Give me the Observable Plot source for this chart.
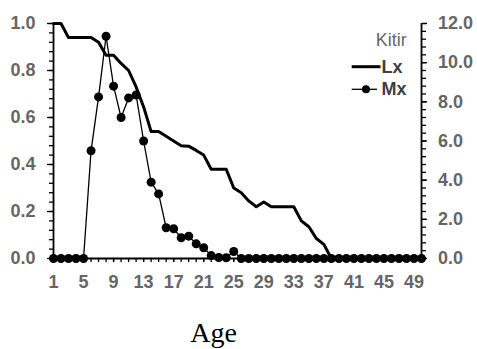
<!DOCTYPE html>
<html><head><meta charset="utf-8">
<script src="https://cdn.jsdelivr.net/npm/d3@7"></script>
<script src="https://cdn.jsdelivr.net/npm/@observablehq/plot@0.6"></script>
<style>body{margin:0;background:#fff} #chart{position:relative;width:477px;height:349px}</style>
</head><body><div id="chart"></div>
<script>
const ages = [1,2,3,4,5,6,7,8,9,10,11,12,13,14,15,16,17,18,19,20,21,22,23,24,25,26,27,28,29,30,31,32,33,34,35,36,37,38,39,40,41,42,43,44,45,46,47,48,49,50];
const lx = [1.0,1.0,0.94,0.94,0.94,0.94,0.92,0.865,0.865,0.83,0.80,0.73,0.645,0.54,0.54,0.52,0.50,0.48,0.478,0.46,0.44,0.38,0.38,0.38,0.30,0.28,0.245,0.22,0.24,0.22,0.22,0.22,0.22,0.16,0.135,0.085,0.06,0,0,0,0,0,0,0,0,0,0,0,0,0];
const mx = [0,0,0,0,0,5.5,8.25,11.35,8.8,7.2,8.2,8.35,6.0,3.9,3.3,1.57,1.52,1.06,1.14,0.75,0.55,0.15,0.05,0.04,0.36,0,0,0,0,0,0,0,0,0,0,0,0,0,0,0,0,0,0,0,0,0,0,0,0,0];
const leftTicks = [0,0.2,0.4,0.6,0.8,1.0];
const leftMinor = [0,0.04,0.08,0.12,0.16,0.2,0.24,0.28,0.32,0.36,0.4,0.44,0.48,0.52,0.56,0.6,0.64,0.68,0.72,0.76,0.8,0.84,0.88,0.92,0.96,1.0];
const rightTicks = [0,2,4,6,8,10,12];
const rightMinor = [0,0.4,0.8,1.2,1.6,2,2.4,2.8,3.2,3.6,4,4.4,4.8,5.2,5.6,6,6.4,6.8,7.2,7.6,8,8.4,8.8,9.2,9.6,10,10.4,10.8,11.2,11.6,12];
const xTicks = [1,5,9,13,17,21,25,29,33,37,41,45,49];
const legendTitle = "Kitir";
const seriesNames = ["Lx","Mx"];
const xTitle = "Age";
const MX_MAX = 12;

const data = ages.map((a,i)=>({age:a, lx:lx[i], mx:mx[i]/MX_MAX}));
const font = "'Liberation Sans', Arial, sans-serif";
const gray = "#666";

const plot = Plot.plot({
  width:477, height:349, marginLeft:53, marginRight:56, marginTop:23, marginBottom:91,
  style:{fontFamily:font, background:"#fff", color:"black"},
  x:{domain:[1,50]},
  y:{domain:[0,1]},
  marks:[
    Plot.axisY({anchor:"left", ticks:leftMinor, tickSize:4, tickFormat:()=>"", label:null, strokeWidth:1.3}),
    Plot.axisY({anchor:"left", ticks:leftTicks, tickSize:6, tickPadding:12, tickFormat:d=>d.toFixed(1), label:null,
      fontSize:18, fontWeight:"bold", fill:gray, stroke:"black", strokeWidth:1.3}),
    Plot.axisY({anchor:"right", ticks:rightMinor.map(v=>v/MX_MAX), tickSize:4, tickFormat:()=>"", label:null, strokeWidth:1.3}),
    Plot.axisY({anchor:"right", ticks:rightTicks.map(v=>v/MX_MAX), tickSize:5, tickPadding:11.5, tickFormat:d=>(d*MX_MAX).toFixed(1), label:null,
      fontSize:18, fontWeight:"bold", fill:gray, stroke:"black", strokeWidth:1.3}),
    Plot.axisX({ticks:ages, tickSize:4, tickFormat:()=>"", label:null, strokeWidth:1.3}),
    Plot.axisX({ticks:xTicks, tickSize:4, tickPadding:13, tickFormat:d=>String(d), label:null,
      fontSize:18, fontWeight:"bold", fill:gray, stroke:"black", strokeWidth:1.3}),
    Plot.ruleX([1,50], {stroke:"black", strokeWidth:1.8}),
    Plot.ruleY([0], {stroke:"black", strokeWidth:1.8}),
    Plot.line(data, {x:"age", y:"lx", stroke:"black", strokeWidth:3}),
    Plot.line(data, {x:"age", y:"mx", stroke:"black", strokeWidth:1.3}),
    Plot.dot(data, {x:"age", y:"mx", r:4.5, fill:"black", stroke:"none"}),
    Plot.text([xTitle], {frameAnchor:"bottom", dx:-24, dy:75, lineAnchor:"middle", fontFamily:"'Liberation Serif', 'Times New Roman', serif", fontSize:28, fill:"black"})
  ]
});
document.getElementById("chart").appendChild(plot);

const svg = d3.select(plot);
const lg = svg.append("g").attr("font-family", font).attr("font-size", 18).attr("text-anchor","start");
lg.append("text").attr("x", 406.7).attr("y", 45.7).attr("text-anchor","end").attr("fill", gray).text(legendTitle);
lg.append("line").attr("x1",351.7).attr("x2",380.5).attr("y1",66.7).attr("y2",66.7).attr("stroke","black").attr("stroke-width",3);
lg.append("text").attr("x", 381.5).attr("y", 73.3).attr("font-weight","bold").attr("fill","#404040").text(seriesNames[0]);
lg.append("line").attr("x1",351.7).attr("x2",377).attr("y1",89.3).attr("y2",89.3).attr("stroke","black").attr("stroke-width",1.3);
lg.append("circle").attr("cx",366).attr("cy",89.3).attr("r",4).attr("fill","black");
lg.append("text").attr("x", 381.5).attr("y", 95).attr("font-weight","bold").attr("fill","#404040").text(seriesNames[1]);
</script>
</body></html>
